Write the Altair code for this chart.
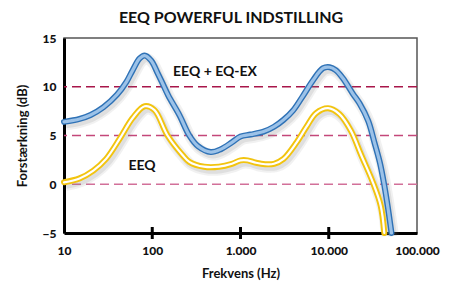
import altair as alt
import pandas as pd

# ---- data ----
blue_freq = [10, 15, 20, 28, 40, 51, 60, 72, 82, 97, 115, 130, 152, 203, 263, 330, 460, 600, 800, 1000,
             1300, 1828, 2400, 3070, 3970, 5130, 6670, 8630, 10260, 12000, 14400, 18700, 22300, 28000,
             32900, 38000, 42600, 47000, 51400]
blue_gain = [6.4, 6.7, 7.1, 7.9, 9.2, 10.5, 11.7, 12.9, 13.2, 12.7, 11.4, 10.4, 9.1, 7.1, 5.0, 3.9, 3.3, 3.6, 4.3, 4.9,
             5.1, 5.4, 5.9, 6.6, 7.6, 9.1, 10.7, 11.9, 12.0, 11.7, 10.9, 9.3, 8.3, 6.5,
             4.3, 2.2, -0.1, -2.5, -5.0]
yellow_freq = [10, 15, 21.5, 30, 43, 60, 82, 106, 149, 220, 263, 386, 570, 800, 1000, 1200, 1500, 1900, 2400,
               3070, 4330, 5600, 7200, 9820, 13200, 17800, 23300, 31600, 38800, 42600]
yellow_gain = [0.2, 0.6, 1.4, 2.6, 4.7, 6.8, 8.0, 7.6, 5.0, 3.0, 2.3, 1.8, 1.8, 2.1, 2.45, 2.45, 2.2, 2.05, 2.1,
               2.6, 4.3, 5.9, 7.3, 7.8, 7.2, 5.5, 3.0, 0.2, -2.2, -5.0]
series_names = ["EEQ + EQ-EX", "EEQ"]

grid_values = [0, 5, 10]
grid_colors = ["#d27099", "#c4477a", "#a8164a"]
x_tick_values = [10, 100, 1000, 10000, 100000]
x_tick_labels = ["10", "100", "1.000", "10.000", "100.000"]
y_tick_values = [-5, 0, 5, 10, 15]
minor_ticks = [100, 1000, 10000]

FONT = "Lato"

df = pd.concat([
    pd.DataFrame({"freq": blue_freq, "gain": blue_gain, "series": series_names[0]}),
    pd.DataFrame({"freq": yellow_freq, "gain": yellow_gain, "series": series_names[1]}),
])
grid_df = pd.DataFrame({"gain": grid_values, "color": grid_colors})
tick_df = pd.DataFrame({"freq": minor_ticks})

label_expr = " : ".join(
    f"datum.value == {v} ? '{l}'" for v, l in zip(x_tick_values, x_tick_labels)
) + " : ''"

xscale = alt.Scale(type="log", domain=[10, 100000], nice=False)
yscale = alt.Scale(domain=[-5, 15], nice=False)

xaxis = alt.Axis(
    values=x_tick_values, labelExpr=label_expr, title="Frekvens (Hz)",
    ticks=False, tickSize=0, grid=False, domainColor="black", domainWidth=3,
    labelFont=FONT, labelFontWeight=900, labelFontSize=12, labelColor="#111",
    labelPadding=12, titleFont=FONT, titleFontWeight="bold", titleFontSize=13,
    titleColor="#111", titlePadding=11, labelFlush=False)
yaxis = alt.Axis(
    values=y_tick_values, title="Forstærkning (dB)",
    ticks=False, tickSize=0, grid=False, domainColor="black", domainWidth=3,
    labelFont=FONT, labelFontWeight=900, labelFontSize=12, labelColor="#111",
    labelPadding=8, titleFont=FONT, titleFontWeight="bold", titleFontSize=13,
    titleColor="#111", titlePadding=13)
X = alt.X("freq:Q", scale=xscale, axis=xaxis, title="Frekvens (Hz)")
Y = alt.Y("gain:Q", scale=yscale, axis=yaxis, title="Forstærkning (dB)")

base = alt.Chart(df)

grid = alt.Chart(grid_df).mark_rule(strokeDash=[9, 5], strokeWidth=1.6).encode(
    y=Y,
    color=alt.Color("color:N", scale=None),
)

layers = [grid]
styles = [
    (series_names[0], "#2f72b6", "#9cc2e8", 3.2),
    (series_names[1], "#f2c40f", "#ffffff", 2.2),
]
INTERP = "catmull-rom"
for name, outer, inner, inner_w in styles:
    sub = base.transform_filter(alt.datum.series == name)
    layers.append(sub.mark_line(interpolate=INTERP, color="#777", strokeWidth=11,
                                opacity=0.10, xOffset=2, yOffset=3).encode(x=X, y=Y))
    layers.append(sub.mark_line(interpolate=INTERP, color="#777", strokeWidth=7,
                                opacity=0.15, xOffset=2, yOffset=3).encode(x=X, y=Y))
for name, outer, inner, inner_w in styles:
    sub = base.transform_filter(alt.datum.series == name)
    layers.append(sub.mark_line(interpolate=INTERP, color=outer, strokeWidth=6,
                                strokeCap="round").encode(x=X, y=Y))
    layers.append(sub.mark_line(interpolate=INTERP, color=inner, strokeWidth=inner_w,
                                strokeCap="round").encode(x=X, y=Y))

ticks = alt.Chart(tick_df).mark_rule(color="black", strokeWidth=3).encode(
    x=X,
    y=alt.value(189), y2=alt.value(201),
)
layers.append(ticks)

title = alt.Chart(pd.DataFrame({"t": ["EEQ POWERFUL INDSTILLING"]})).mark_text(
    font=FONT, fontSize=16, fontWeight="bold", color="#111", align="center", baseline="middle"
).encode(text="t:N", x=alt.value(167), y=alt.value(-20))
ann1 = alt.Chart(pd.DataFrame({"t": [series_names[0]]})).mark_text(
    font=FONT, fontSize=14, fontWeight="bold", color="#111", align="center", baseline="middle"
).encode(text="t:N", x=alt.value(151), y=alt.value(34))
ann2 = alt.Chart(pd.DataFrame({"t": [series_names[1]]})).mark_text(
    font=FONT, fontSize=14, fontWeight="bold", color="#111", align="center", baseline="middle"
).encode(text="t:N", x=alt.value(78), y=alt.value(128))
layers += [title, ann1, ann2]

chart = alt.layer(*layers).properties(
    width=353, height=195,
    autosize=alt.AutoSizeParams(type="none"),
    padding={"left": 56, "top": 30, "right": 30, "bottom": 50},
    background="white",
).configure_view(stroke="#555", strokeWidth=1.5)

chart.save("out.html", embed_options={"renderer": "svg", "actions": False})
